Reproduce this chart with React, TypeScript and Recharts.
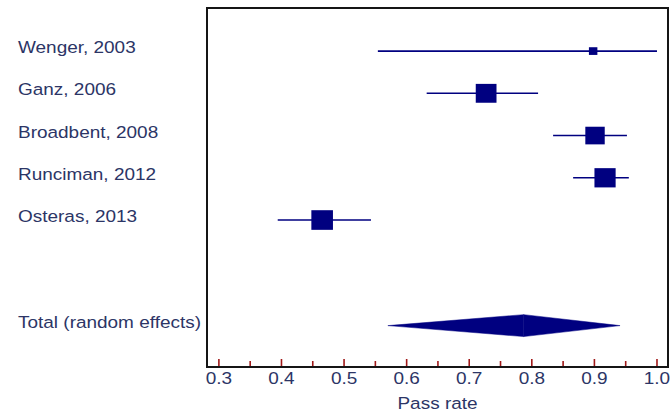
import React from 'react';
import { ComposedChart, XAxis, YAxis, Scatter, ReferenceLine, ReferenceArea } from 'recharts';

const studies = ['Wenger, 2003', 'Ganz, 2006', 'Broadbent, 2008', 'Runciman, 2012', 'Osteras, 2013'];
const rows = [1, 2, 3, 4, 5];
const estimates = [0.898, 0.727, 0.901, 0.917, 0.465];
const lowerCI = [0.554, 0.632, 0.834, 0.866, 0.394];
const upperCI = [1.0, 0.81, 0.952, 0.955, 0.543];
const weights = [4, 24, 21, 25, 26];

const totalLabel = 'Total (random effects)';
const totalRow = 7.5;
const totalEstimate = 0.787;
const totalLower = 0.57;
const totalUpper = 0.941;

const majorTicks = [0.3, 0.4, 0.5, 0.6, 0.7, 0.8, 0.9, 1.0];
const minorTicks = [0.35, 0.45, 0.55, 0.65, 0.75, 0.85, 0.95];
const axisTitle = 'Pass rate';

const X_DOMAIN: [number, number] = [0.281, 1.0176];
const Y_DOMAIN: [number, number] = [-0.02, 8.48];
const NAVY = '#000080';
const TEXT = '#2c3566';
const FONT = '"Liberation Sans", Arial, sans-serif';
const FS = 16.5;
const SX = 1.15;
const DIAMOND_HALF = 0.26;

const allTicks = [...majorTicks, ...minorTicks].sort((a, b) => a - b);
const rowLabels: Record<string, string> = {};
rows.forEach((r, i) => (rowLabels[String(r)] = studies[i]));
rowLabels[String(totalRow)] = totalLabel;

const scatterData = rows.map((r, i) => ({ x: estimates[i], y: r, w: weights[i] }));

const StretchText = ({ x, y, anchor, children }: any) => (
  <text
    transform={`translate(${x},${y}) scale(${SX},1)`}
    x={0}
    y={0}
    textAnchor={anchor}
    fontFamily={FONT}
    fontSize={FS}
    fill={TEXT}
  >
    {children}
  </text>
);

const XTick = (props: any) => {
  const { x, y, payload } = props;
  const v = payload.value;
  const isMajor = majorTicks.some((m) => Math.abs(m - v) < 1e-6);
  return (
    <g>
      <line x1={x} x2={x} y1={y - 1} y2={y - (isMajor ? 8 : 6)} stroke="#a01818" strokeWidth={1.6} />
      {isMajor ? (
        <StretchText x={x} y={y + 17} anchor="middle">
          {v.toFixed(1)}
        </StretchText>
      ) : null}
    </g>
  );
};

const YTick = (props: any) => {
  const { y, payload } = props;
  const label = rowLabels[String(payload.value)];
  if (!label) return null;
  return (
    <StretchText x={18} y={y + 2} anchor="start">
      {label}
    </StretchText>
  );
};

const Square = (props: any) => {
  const { cx, cy, payload } = props;
  const side = 3.85 * Math.sqrt(payload.w);
  const w = side * 1.1;
  return <rect x={cx - w / 2} y={cy - side / 2} width={w} height={side} fill={NAVY} />;
};

const LeftHalf = (props: any) => {
  const { x, y, width, height } = props;
  return (
    <polygon
      points={`${x},${y + height / 2} ${x + width},${y} ${x + width},${y + height}`}
      fill={NAVY}
      stroke={NAVY}
      strokeWidth={0.5}
    />
  );
};

const RightHalf = (props: any) => {
  const { x, y, width, height } = props;
  return (
    <polygon
      points={`${x},${y} ${x + width},${y + height / 2} ${x},${y + height}`}
      fill={NAVY}
      stroke={NAVY}
      strokeWidth={0.5}
    />
  );
};

const FrameRect = (props: any) => {
  const { x, y, width, height } = props;
  return <rect x={x} y={y} width={width} height={height} fill="none" stroke="#151515" strokeWidth={2} />;
};

const AxisTitle = (props: any) => {
  const vb = props.viewBox || {};
  return (
    <StretchText x={vb.x + vb.width / 2} y={vb.y + 42} anchor="middle">
      {axisTitle}
    </StretchText>
  );
};

export default function App() {
  return (
    <div style={{ position: 'absolute', left: 0, top: 0, width: 670, height: 412, background: '#fff' }}>
      <ComposedChart width={670} height={412} margin={{ top: 8, right: 2, bottom: 0, left: 8 }}>
        <XAxis
          type="number"
          dataKey="x"
          domain={X_DOMAIN}
          allowDataOverflow
          ticks={allTicks}
          interval={0}
          axisLine={false}
          tickLine={false}
          tickSize={0}
          tickMargin={0}
          height={45}
          tick={<XTick />}
          label={{ value: axisTitle, content: <AxisTitle /> }}
        />
        <YAxis
          type="number"
          dataKey="y"
          domain={Y_DOMAIN}
          reversed
          allowDataOverflow
          ticks={[...rows, totalRow]}
          interval={0}
          axisLine={false}
          tickLine={false}
          tickSize={0}
          tickMargin={0}
          width={199}
          tick={<YTick />}
        />
        <ReferenceArea
          x1={X_DOMAIN[0]}
          x2={X_DOMAIN[1]}
          y1={Y_DOMAIN[0]}
          y2={Y_DOMAIN[1]}
          ifOverflow="visible"
          shape={<FrameRect />}
        />
        {rows.map((r, i) => (
          <ReferenceLine
            key={studies[i]}
            segment={[
              { x: lowerCI[i], y: r },
              { x: upperCI[i], y: r },
            ]}
            stroke={NAVY}
            strokeWidth={1.6}
            ifOverflow="visible"
          />
        ))}
        <ReferenceArea
          x1={totalLower}
          x2={totalEstimate}
          y1={totalRow - DIAMOND_HALF}
          y2={totalRow + DIAMOND_HALF}
          ifOverflow="visible"
          shape={<LeftHalf />}
        />
        <ReferenceArea
          x1={totalEstimate}
          x2={totalUpper}
          y1={totalRow - DIAMOND_HALF}
          y2={totalRow + DIAMOND_HALF}
          ifOverflow="visible"
          shape={<RightHalf />}
        />
        <Scatter data={scatterData} dataKey="y" shape={<Square />} isAnimationActive={false} />
      </ComposedChart>
    </div>
  );
}
